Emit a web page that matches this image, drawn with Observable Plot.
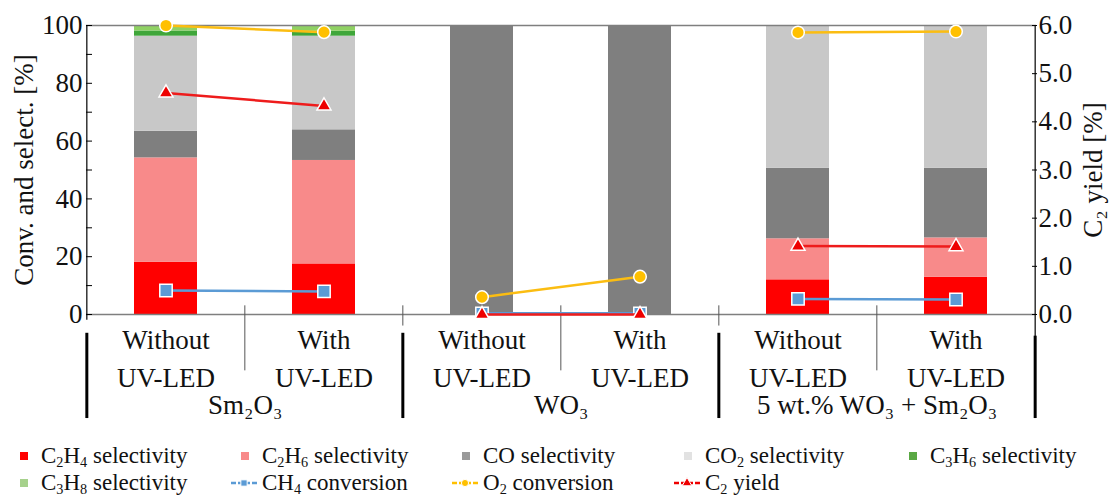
<!DOCTYPE html>
<html>
<head>
<meta charset="utf-8">
<script src="https://cdn.jsdelivr.net/npm/d3@7"></script>
<script src="https://cdn.jsdelivr.net/npm/@observablehq/plot@0.6"></script>
<style>
  body { margin: 0; background: #fff; color: #111; }
  #chart svg { display: block; }
  #legend { position: relative; width: 1110px; height: 54px; margin-top: 2px; }
  #legend .txt { position: absolute; white-space: nowrap; line-height: 27px; }
  #legend .sw { position: absolute; }
  #legend sub { font-size: 0.62em; vertical-align: -0.28em; line-height: 0; }
</style>
</head>
<body>
<div id="chart"></div>
<div id="legend"></div>
<script>
// ---------- data ----------
const catalysts = ["Sm\u2082O\u2083", "WO\u2083", "5 wt.% WO\u2083 + Sm\u2082O\u2083"];
const conditions = ["Without\nUV-LED", "With\nUV-LED"];

const seriesNames = ["C2H4 selectivity", "C2H6 selectivity", "CO selectivity", "CO2 selectivity", "C3H6 selectivity", "C3H8 selectivity"];
const seriesColors = ["#ff0000", "#f88a8a", "#7f7f7f", "#c8c8c8", "#3fa63a", "#8fd163"];

// order: Sm2O3 without, Sm2O3 with, WO3 without, WO3 with, 5wt% without, 5wt% with
const c2h4Sel = [18.1, 17.5, 0, 0, 12.0, 12.9];
const c2h6Sel = [36.1, 35.8, 0, 0, 14.2, 13.6];
const coSel   = [9.2, 10.6, 100, 100, 24.4, 24.1];
const co2Sel  = [32.9, 32.4, 0, 0, 49.4, 49.4];
const c3h6Sel = [1.8, 1.7, 0, 0, 0, 0];
const c3h8Sel = [1.9, 2.0, 0, 0, 0, 0];

const ch4Conv = [8.3, 8.0, 0.4, 0.4, 5.4, 5.2];
const o2Conv  = [100, 97.7, 6.0, 13.1, 97.6, 97.9];
const c2Yield = [4.60, 4.33, 0, 0, 1.42, 1.41];

const leftTicks = [0, 20, 40, 60, 80, 100];
const leftMinorTicks = [0, 10, 20, 30, 40, 50, 60, 70, 80, 90, 100];
const rightTicks = [0, 1, 2, 3, 4, 5, 6];

const leftLabel = "Conv. and select. [%]";
const rightLabel = "C\u2082 yield [%]";

// ---------- font choice (a serif face if one exists, sized to the reference's text widths) ----------
const ctx = document.createElement("canvas").getContext("2d");
function hasFont(name) {
  const s = "Without UV-LED mmmwwwiiil 0123456789";
  let diff = false;
  for (const fb of ["monospace", "sans-serif"]) {
    ctx.font = `40px ${fb}`; const a = ctx.measureText(s).width;
    ctx.font = `40px "${name}", ${fb}`; const b = ctx.measureText(s).width;
    if (Math.abs(a - b) > 0.5) diff = true;
  }
  return diff;
}
const serifCandidates = ["Liberation Serif", "Tinos", "Times New Roman", "Nimbus Roman", "Noto Serif", "DejaVu Serif", "FreeSerif"];
const fontName = serifCandidates.find(hasFont);
const fontStack = fontName ? `"${fontName}", serif` : "serif";
ctx.font = `26px ${fontStack}`;
const fs = Math.max(19, Math.min(27, 26 * 100 / ctx.measureText("UV-LED").width));
const legendFs = Math.min(23, fs);
document.body.style.fontFamily = fontStack;
document.getElementById("legend").style.fontSize = legendFs + "px";

// ---------- derived tables ----------
const keys = catalysts.flatMap(c => conditions.map(k => c + "|" + k));
const catOf = k => k.split("|")[0];
const condOf = k => k.split("|")[1];
const groupStarts = catalysts.map(c => c + "|" + conditions[0]);
const withKeys = catalysts.map(c => c + "|" + conditions[1]);
const lastKey = keys[keys.length - 1];

const seriesValues = [c2h4Sel, c2h6Sel, coSel, co2Sel, c3h6Sel, c3h8Sel];
const barData = keys.flatMap((k, i) => seriesNames.map((s, j) => ({key: k, series: s, value: seriesValues[j][i]})));

const yieldMax = rightTicks[rightTicks.length - 1];
const toLeft = v => v * 100 / yieldMax;
const lineData = keys.map((k, i) => ({key: k, cat: catOf(k), ch4: ch4Conv[i], o2: o2Conv[i], yld: toLeft(c2Yield[i])}));

// ---------- layout ----------
const W = 1110, H = 440, mL = 86, mR = 74, mT = 25, mB = 126;
const step = (W - mL - mR) / keys.length;

const chart = Plot.plot({
  width: W, height: H,
  marginLeft: mL, marginRight: mR, marginTop: mT, marginBottom: mB,
  style: {fontFamily: fontStack, fontSize: fs + "px", color: "#111", background: "#fff", overflow: "visible"},
  x: {type: "band", domain: keys, paddingInner: 0.6, paddingOuter: 0.3, axis: null},
  y: {domain: [0, 100], axis: null},
  color: {domain: seriesNames, range: seriesColors},
  marks: [
    Plot.barY(barData, {x: "key", y: "value", fill: "series"}),
    Plot.ruleY([0, 100], {stroke: "#7f7f7f", strokeWidth: 1.5}),
    // category separators
    Plot.ruleX(withKeys, {x: d => d, dx: -step / 2, y1: 3, y2: -19.5, stroke: "#555"}),
    Plot.ruleX(groupStarts.slice(1), {x: d => d, dx: -step / 2, y1: 3, y2: -4, stroke: "#555"}),
    Plot.ruleX(groupStarts, {x: d => d, dx: -step / 2, y1: -6.5, y2: -36, stroke: "#000", strokeWidth: 3}),
    Plot.ruleX([lastKey], {x: d => d, dx: step / 2, y1: -7.5, y2: -36, stroke: "#000", strokeWidth: 3}),
    // axis lines
    Plot.ruleX([keys[0]], {x: d => d, dx: -step / 2, y1: 100, y2: -2, stroke: "#000", strokeWidth: 1.2}),
    Plot.ruleX([lastKey], {x: d => d, dx: step / 2, y1: 100, y2: -21, stroke: "#000", strokeWidth: 1.2}),
    // left axis
    Plot.axisY(leftTicks, {anchor: "left", tickSize: 0, tickPadding: 4, label: null, fill: "#111"}),
    Plot.axisY(leftMinorTicks, {anchor: "left", tickSize: 6, dx: 6, tickFormat: () => "", label: null, stroke: "#000"}),
    // right axis
    Plot.axisY(rightTicks.map(toLeft), {anchor: "right", tickSize: 0, tickPadding: 2, tickFormat: d => (d * yieldMax / 100).toFixed(1), label: null, fill: "#111"}),
    Plot.axisY(rightTicks.map(toLeft), {anchor: "right", tickSize: 5, dx: -5, tickFormat: () => "", label: null, stroke: "#000"}),
    Plot.text([leftLabel], {frameAnchor: "left", textAnchor: "middle", dx: -62, rotate: -90, text: d => d, fill: "#111"}),
    Plot.text([rightLabel], {frameAnchor: "right", textAnchor: "middle", dx: 57, rotate: -90, text: d => d, fill: "#111"}),
    // category labels
    Plot.text(keys, {x: d => d, y: 0, text: d => condOf(d), dy: 41, lineHeight: 38 / fs, fill: "#111"}),
    Plot.text(groupStarts, {x: d => d, y: 0, text: d => catOf(d), dx: step / 2, dy: 91, fill: "#111"}),
    // series lines
    Plot.line(lineData, {x: "key", y: "ch4", z: "cat", stroke: "#5b9bd5", strokeWidth: 2.5}),
    Plot.dot(lineData, {x: "key", y: "ch4", symbol: "square", r: 7, fill: "#5b9bd5", stroke: "#fff", strokeWidth: 1.5}),
    Plot.line(lineData, {x: "key", y: "yld", z: "cat", stroke: "#ee1c1c", strokeWidth: 2.5}),
    Plot.dot(lineData, {x: "key", y: "yld", symbol: "triangle", r: 5.2, fill: "#ee0000", stroke: "#fff", strokeWidth: 1.5}),
    Plot.line(lineData, {x: "key", y: "o2", z: "cat", stroke: "#fbbd12", strokeWidth: 2.5}),
    Plot.dot(lineData, {x: "key", y: "o2", symbol: "circle", r: 6.3, fill: "#ffc000", stroke: "#fff", strokeWidth: 1.5})
  ]
});
document.getElementById("chart").appendChild(chart);

// ---------- legend ----------
const legendItems = [
  {html: "C<sub>2</sub>H<sub>4</sub> selectivity", type: "square", color: seriesColors[0]},
  {html: "C<sub>2</sub>H<sub>6</sub> selectivity", type: "square", color: seriesColors[1]},
  {html: "CO selectivity", type: "square", color: "#9a9a9a"},
  {html: "CO<sub>2</sub> selectivity", type: "square", color: "#e2e2e2"},
  {html: "C<sub>3</sub>H<sub>6</sub> selectivity", type: "square", color: "#5aa844"},
  {html: "C<sub>3</sub>H<sub>8</sub> selectivity", type: "square", color: "#a6d18c"},
  {html: "CH<sub>4</sub> conversion", type: "line", symbol: "square", color: "#5b9bd5"},
  {html: "O<sub>2</sub> conversion", type: "line", symbol: "circle", color: "#ffc000"},
  {html: "C<sub>2</sub> yield", type: "line", symbol: "triangle", color: "#ee0000"}
];
const legendTextX = [41, 262, 483, 705, 930];
const legend = document.getElementById("legend");
legendItems.forEach((it, i) => {
  const row = Math.floor(i / 5), col = i % 5;
  const tx = legendTextX[col], top = row * 27;
  const t = document.createElement("div");
  t.className = "txt";
  t.style.left = tx + "px";
  t.style.top = top + "px";
  t.innerHTML = it.html;
  legend.appendChild(t);
  const sw = d3.create("svg").attr("class", "sw").attr("width", 34).attr("height", 27)
    .style("left", (tx - 34) + "px").style("top", top + "px");
  const cy = 14;
  if (it.type === "square") {
    sw.append("rect").attr("x", 13).attr("y", cy - 4).attr("width", 8).attr("height", 8).attr("fill", it.color);
  } else {
    sw.append("line").attr("x1", 3).attr("x2", 29).attr("y1", cy).attr("y2", cy)
      .attr("stroke", it.color).attr("stroke-width", 2.5).attr("stroke-dasharray", "5,2");
    const sym = it.symbol === "square" ? d3.symbolSquare : it.symbol === "circle" ? d3.symbolCircle : d3.symbolTriangle;
    sw.append("path").attr("d", d3.symbol(sym, 40)).attr("transform", `translate(16,${cy})`)
      .attr("fill", it.color).attr("stroke", "#fff").attr("stroke-width", 1);
  }
  legend.appendChild(sw.node());
});
</script>
</body>
</html>
